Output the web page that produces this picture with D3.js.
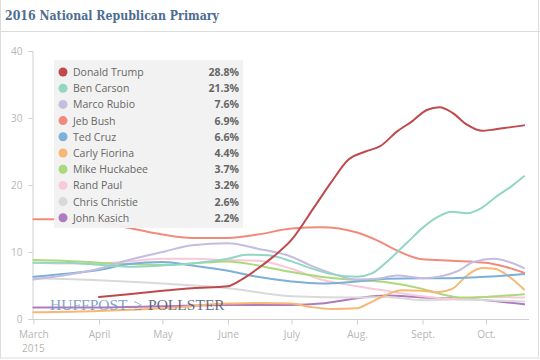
<!DOCTYPE html>
<html>
<head>
<meta charset="utf-8">
<script src="https://cdn.jsdelivr.net/npm/d3@7"></script>
<style>
  html, body { margin: 0; padding: 0; background: #fff; }
  svg { display: block; }
</style>
</head>
<body>
<svg id="chart" width="540" height="360"></svg>
<script>
// ---------- DATA ----------
const title = "2016 National Republican Primary";
const candidates = ["Donald Trump", "Ben Carson", "Marco Rubio", "Jeb Bush", "Ted Cruz",
  "Carly Fiorina", "Mike Huckabee", "Rand Paul", "Chris Christie", "John Kasich"];
const legendValues = ["28.8%", "21.3%", "7.6%", "6.9%", "6.6%", "4.4%", "3.7%", "3.2%", "2.6%", "2.2%"];
const colors = ["#bf4a4e", "#92d6c4", "#c4bddf", "#f28a7c", "#7cb0d8",
  "#f8b772", "#acd97c", "#f7c9da", "#d9d9d9", "#b07ac0"];

const trump = [["2015-04-01",3.3],["2015-04-15",3.7],["2015-05-01",4.2],["2015-05-15",4.6],["2015-06-01",4.9],
  ["2015-06-08",6.0],["2015-06-15",7.5],["2015-06-22",9.2],["2015-07-01",11.8],["2015-07-12",16.8],
  ["2015-07-20",20.5],["2015-07-28",23.8],["2015-08-05",25.0],["2015-08-12",25.8],["2015-08-20",28.0],
  ["2015-08-27",29.5],["2015-09-03",31.2],["2015-09-09",31.6],["2015-09-15",30.8],["2015-09-22",29.0],
  ["2015-09-29",28.1],["2015-10-05",28.3],["2015-10-12",28.6],["2015-10-19",28.9]];
const carson = [["2015-03-01",8.4],["2015-03-15",8.4],["2015-04-01",8.1],["2015-04-15",7.8],["2015-05-01",8.0],
  ["2015-05-15",8.3],["2015-06-01",9.0],["2015-06-10",9.6],["2015-06-20",9.5],["2015-07-01",8.6],
  ["2015-07-10",7.6],["2015-07-20",6.7],["2015-08-01",6.3],["2015-08-08",6.8],["2015-08-15",8.5],
  ["2015-08-25",11.5],["2015-09-01",13.6],["2015-09-08",15.2],["2015-09-15",16.0],["2015-09-22",15.8],
  ["2015-09-29",16.6],["2015-10-06",18.3],["2015-10-13",19.8],["2015-10-19",21.3]];
const rubio = [["2015-03-01",5.9],["2015-03-15",6.5],["2015-04-01",7.5],["2015-04-15",8.8],["2015-05-01",10.0],
  ["2015-05-15",11.0],["2015-06-01",11.3],["2015-06-15",10.5],["2015-07-01",9.3],["2015-07-10",8.0],
  ["2015-07-20",6.8],["2015-08-01",5.9],["2015-08-10",6.0],["2015-08-20",6.5],["2015-09-01",6.1],
  ["2015-09-10",6.4],["2015-09-18",7.2],["2015-09-25",8.5],["2015-10-05",9.0],["2015-10-12",8.5],
  ["2015-10-19",7.6]];
const bush = [["2015-03-01",14.9],["2015-03-15",14.9],["2015-04-01",14.6],["2015-04-15",13.6],["2015-05-01",12.6],
  ["2015-05-15",12.1],["2015-06-01",12.1],["2015-06-15",12.6],["2015-07-01",13.5],["2015-07-15",13.7],
  ["2015-08-01",12.9],["2015-08-10",11.8],["2015-08-20",10.2],["2015-09-01",8.9],["2015-09-15",8.7],
  ["2015-10-01",8.4],["2015-10-10",7.8],["2015-10-19",6.9]];
const cruz = [["2015-03-01",6.3],["2015-03-15",6.7],["2015-04-01",7.3],["2015-04-15",8.2],["2015-05-01",8.5],
  ["2015-05-15",8.0],["2015-06-01",7.2],["2015-06-15",6.3],["2015-07-01",5.6],["2015-07-15",5.3],
  ["2015-08-01",5.6],["2015-08-15",6.0],["2015-09-01",6.1],["2015-09-15",6.1],["2015-10-01",6.3],
  ["2015-10-19",6.7]];
const fiorina = [["2015-03-01",1.0],["2015-04-01",1.2],["2015-05-01",1.6],["2015-06-01",2.3],["2015-06-15",2.4],
  ["2015-07-01",2.3],["2015-07-10",1.8],["2015-07-20",1.5],["2015-08-01",1.6],["2015-08-07",2.4],
  ["2015-08-15",3.6],["2015-08-22",4.3],["2015-09-01",4.2],["2015-09-08",4.0],["2015-09-15",4.5],
  ["2015-09-22",6.5],["2015-09-29",7.6],["2015-10-05",7.5],["2015-10-12",6.3],["2015-10-19",4.4]];
const huckabee = [["2015-03-01",8.8],["2015-03-15",8.7],["2015-04-01",8.4],["2015-04-15",8.2],["2015-05-01",8.1],
  ["2015-05-15",8.3],["2015-06-01",8.6],["2015-06-15",8.0],["2015-07-01",7.0],["2015-07-15",6.3],
  ["2015-08-01",5.8],["2015-08-15",5.5],["2015-09-01",4.5],["2015-09-10",3.7],["2015-09-20",3.2],
  ["2015-10-01",3.3],["2015-10-19",3.7]];
const paul = [["2015-03-01",8.4],["2015-03-15",8.3],["2015-04-01",8.3],["2015-04-15",8.6],["2015-05-01",9.0],
  ["2015-05-15",9.0],["2015-06-01",8.8],["2015-06-15",8.7],["2015-07-01",7.5],["2015-07-15",5.9],
  ["2015-08-01",4.9],["2015-08-15",4.2],["2015-09-01",3.4],["2015-09-15",3.0],["2015-10-01",3.3],
  ["2015-10-19",3.2]];
const christie = [["2015-03-01",6.1],["2015-04-01",5.8],["2015-05-01",5.3],["2015-06-01",4.6],["2015-07-01",3.4],
  ["2015-08-01",3.2],["2015-08-15",3.3],["2015-09-01",2.8],["2015-09-15",2.9],["2015-10-01",2.8],
  ["2015-10-19",2.6]];
const kasich = [["2015-03-01",1.7],["2015-04-01",1.7],["2015-05-01",1.9],["2015-06-01",2.1],["2015-07-01",2.1],
  ["2015-07-15",2.3],["2015-08-01",3.1],["2015-08-15",3.5],["2015-09-01",3.2],["2015-09-15",3.1],
  ["2015-10-01",2.8],["2015-10-19",2.2]];

const seriesData = [trump, carson, rubio, bush, cruz, fiorina, huckabee, paul, christie, kasich];
const yTicks = [0, 10, 20, 30, 40];
const monthTicks = ["2015-03-01","2015-04-01","2015-05-01","2015-06-01","2015-07-01","2015-08-01","2015-09-01","2015-10-01"];
const monthLabels = ["March", "April", "May", "June", "July", "Aug.", "Sept.", "Oct."];
const yearLabel = "2015";

// ---------- CHART ----------
const parse = d3.timeParse("%Y-%m-%d");
const svg = d3.select("#chart");
const font = "'Open Sans', 'DejaVu Sans', sans-serif";

// frame
svg.append("rect").attr("x", 0.5).attr("y", -1).attr("width", 538).attr("height", 359)
  .attr("fill", "none").attr("stroke", "#dcdcdc");
svg.append("line").attr("x1", 0).attr("x2", 540).attr("y1", 31.5).attr("y2", 31.5)
  .attr("stroke", "#dcdcdc");
svg.append("text").attr("x", 5).attr("y", 20)
  .attr("font-family", "'DejaVu Serif', serif").attr("font-weight", "bold")
  .attr("font-size", 12.5).attr("fill", "#4d6c90")
  .attr("textLength", 214).attr("lengthAdjust", "spacingAndGlyphs").text(title);

const x = d3.scaleTime().domain([parse("2015-03-01"), parse("2015-10-20")]).range([33.4, 526.2]);
const y = d3.scaleLinear().domain([0, 40]).range([319, 51]);

// y axis
const yAxis = svg.append("g").attr("transform", "translate(32.5,0)")
  .call(d3.axisLeft(y).tickValues(yTicks).tickSize(4).tickPadding(6).tickFormat(d3.format("d")));
yAxis.selectAll("path, line").attr("stroke", "#cfcfcf");
yAxis.selectAll("text").attr("fill", "#b5b5b5").attr("font-family", font).attr("font-size", 10);

// x axis
const xAxis = svg.append("g").attr("transform", "translate(0,319.5)")
  .call(d3.axisBottom(x).tickValues(monthTicks.map(parse)).tickSize(5).tickSizeOuter(0)
    .tickPadding(6).tickFormat((d, i) => monthLabels[i]));
xAxis.select(".domain").attr("d", "M33,0H529");
xAxis.selectAll("path, line").attr("stroke", "#cfcfcf");
xAxis.selectAll("text").attr("fill", "#b5b5b5").attr("font-family", font).attr("font-size", 10);
xAxis.append("text").attr("x", x(parse(monthTicks[0]))).attr("y", 32).attr("text-anchor", "middle")
  .attr("fill", "#b5b5b5").attr("font-family", font).attr("font-size", 10).text(yearLabel);

// lines (draw in reverse so Trump ends on top)
const line = d3.line().x(d => x(parse(d[0]))).y(d => y(d[1])).curve(d3.curveMonotoneX);
const order = d3.range(candidates.length).reverse();
svg.append("g").selectAll("path").data(order).join("path")
  .attr("d", i => line(seriesData[i]))
  .attr("fill", "none").attr("stroke", i => colors[i]).attr("stroke-width", 2)
  .attr("stroke-linejoin", "round").attr("stroke-linecap", "round");

// watermark
const wm = svg.append("text").attr("x", 50).attr("y", 310)
  .attr("font-family", "'Liberation Serif', serif").attr("font-size", 15.5).attr("opacity", 0.85);
wm.append("tspan").attr("fill", "#6e93c2").text("HUFFPOST");
wm.append("tspan").attr("fill", "#8a8fa8").attr("dx", 6).text("≥");
wm.append("tspan").attr("fill", "#4f5577").attr("dx", 6).text("POLLSTER");

// legend
const lg = svg.append("g");
lg.append("rect").attr("x", 54).attr("y", 60).attr("width", 189).attr("height", 168)
  .attr("fill", "#f1f1f1").attr("opacity", 0.95);
const rows = lg.selectAll("g.row").data(candidates).join("g").attr("class", "row")
  .attr("transform", (d, i) => `translate(0, ${72 + i * 16.2})`);
rows.append("circle").attr("cx", 63).attr("cy", 0).attr("r", 4.5).attr("fill", (d, i) => colors[i]);
rows.append("text").attr("x", 73).attr("y", 4).attr("font-family", font).attr("font-size", 10.5)
  .attr("fill", "#666").text(d => d);
rows.append("text").attr("x", 239).attr("y", 4).attr("text-anchor", "end").attr("font-family", font)
  .attr("font-size", 10.5).attr("font-weight", "bold").attr("fill", "#666").text((d, i) => legendValues[i]);
</script>
</body>
</html>
